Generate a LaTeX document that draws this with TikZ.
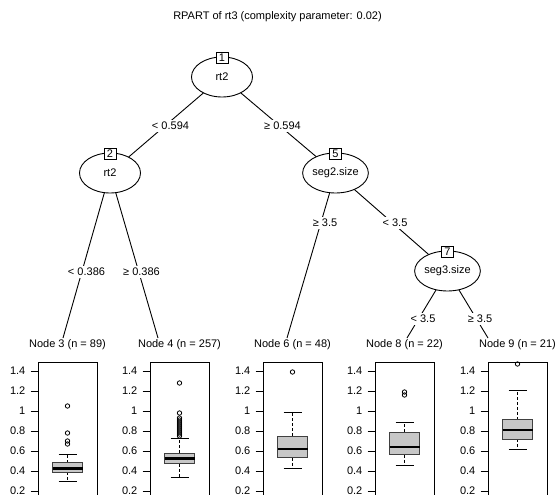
\documentclass[tikz,border=0pt]{standalone}
\usepackage{fontspec}
\setmainfont{Liberation Sans}
\usetikzlibrary{shapes.geometric,backgrounds}

% One terminal panel: #1 centre x, #2 lower whisker, #3 Q1, #4 median,
% #5 Q3, #6 upper whisker, #7 outliers, #8 leaf id
\newcommand\leafpanel[8]{%
  \draw[panelline] ({#1-29.5},362) rectangle ({#1+29.5},530);
  \foreach \v/\t [count=\i] in {0.2/0.2,0.4/0.4,0.6/0.6,0.8/0.8,1/1,1.2/1.2,1.4/1.4}{%
    \draw[panelline] ({#1-37},{511-100*\v}) -- ({#1-29.5},{511-100*\v});
    \node[ticklab] (tk#8-\i) at ({#1-42},{511-100*\v}) {\t};
  }
  \draw[whisk,dash pattern=on 3pt off 2pt] (#1,{511-100*#3}) -- (#1,{511-100*#2});
  \draw[whisk,dash pattern=on 3pt off 2pt] (#1,{511-100*#5}) -- (#1,{511-100*#6});
  \draw[whisk] ({#1-9},{511-100*#2}) -- ({#1+9},{511-100*#2});
  \draw[whisk] ({#1-9},{511-100*#6}) -- ({#1+9},{511-100*#6});
  \filldraw[boxbody] ({#1-15},{511-100*#3}) rectangle ({#1+15},{511-100*#5});
  \draw[medianline] ({#1-15},{511-100*#4}) -- ({#1+15},{511-100*#4});
  \foreach \o in {#7}{\draw[outlier] (#1,{511-100*\o}) circle (2.2pt);}
}

\begin{document}
\begin{tikzpicture}[x=1pt,y=-1pt,
  every node/.style={font=\fontsize{11}{13}\selectfont},
  split/.style={ellipse,draw,fill=white,line width=0.9pt,
    minimum width=61pt,minimum height=40pt,inner sep=0pt},
  idbox/.style={draw,fill=white,line width=0.9pt,minimum width=12pt,
    minimum height=11pt,inner sep=1pt},
  edgelab/.style={fill=white,inner sep=2pt},
  treeedge/.style={line width=0.9pt},
  hdr/.style={inner sep=1pt},
  ticklab/.style={anchor=east,inner sep=0pt},
  panelline/.style={line width=0.9pt},
  whisk/.style={line width=0.9pt},
  boxbody/.style={fill=black!22,draw=black!75,line width=0.8pt},
  medianline/.style={line width=2.6pt},
  outlier/.style={line width=0.8pt}]

\clip (0,0) rectangle (557,495);

% title
\node (title) at (277.5,17) {RPART of rt3 (complexity parameter: 0.02)};

% inner (split) nodes
\node[split] (N1) at (222,77) {rt2};
\node[split] (N2) at (110,173) {rt2};
\node[split] (N5) at (335.5,173) {seg2.size};
\node[split] (N7) at (447.5,271) {seg3.size};
\node[idbox] (B1) at ([yshift=-1.5pt]N1.north) {1};
\node[idbox] (B2) at ([yshift=-1.5pt]N2.north) {2};
\node[idbox] (B5) at ([yshift=-1.5pt]N5.north) {5};
\node[idbox] (B7) at ([yshift=-1.5pt]N7.north) {7};

% where the edges meet the terminal panels
\coordinate (e3) at (63,338);
\coordinate (e4) at (158,338);
\coordinate (e6) at (287,338);
\coordinate (e8) at (407,338);
\coordinate (e9) at (488,338);

% terminal headers
\node[hdr] (H3) at (67.5,345) {Node 3 (n = 89)};
\node[hdr] (H4) at (179.5,345) {Node 4 (n = 257)};
\node[hdr] (H6) at (292.5,345) {Node 6 (n = 48)};
\node[hdr] (H8) at (404.5,345) {Node 8 (n = 22)};
\node[hdr] (H9) at (517.5,345) {Node 9 (n = 21)};

% edges, kept under the nodes and labels
\begin{scope}[on background layer]
  \fill[white] (0,0) rectangle (557,495);
  \draw[treeedge] (N1.center) -- (N2.center);
  \draw[treeedge] (N1.center) -- (N5.center);
  \draw[treeedge] (N2.center) -- (e3);
  \draw[treeedge] (N2.center) -- (e4);
  \draw[treeedge] (N5.center) -- (e6);
  \draw[treeedge] (N5.center) -- (N7.center);
  \draw[treeedge] (N7.center) -- (e8);
  \draw[treeedge] (N7.center) -- (e9);
\end{scope}

% split labels
\node[edgelab] (l12) at (170.5,126) {< 0.594};
\node[edgelab] (l15) at (282.5,126) {≥ 0.594};
\node[edgelab] (l23) at (86.5,272) {< 0.386};
\node[edgelab] (l24) at (141.5,272) {≥ 0.386};
\node[edgelab] (l56) at (325,223) {≥ 3.5};
\node[edgelab] (l57) at (395,223) {< 3.5};
\node[edgelab] (l78) at (423,319) {< 3.5};
\node[edgelab] (l79) at (480,319) {≥ 3.5};

% terminal boxplots
\leafpanel{67.5}{0.30}{0.39}{0.425}{0.485}{0.57}{1.05,0.78,0.70,0.67}{a}
\leafpanel{179.5}{0.335}{0.475}{0.525}{0.58}{0.73}{1.28,0.98,0.93,0.91,0.89,0.87,0.85,0.83,0.81,0.79,0.77,0.75}{b}
\leafpanel{292.5}{0.43}{0.535}{0.62}{0.75}{0.99}{1.39}{c}
\leafpanel{404.5}{0.46}{0.565}{0.64}{0.79}{0.89}{1.19,1.16}{d}
\leafpanel{517.5}{0.615}{0.72}{0.81}{0.915}{1.21}{1.47}{e}

\end{tikzpicture}
\end{document}
